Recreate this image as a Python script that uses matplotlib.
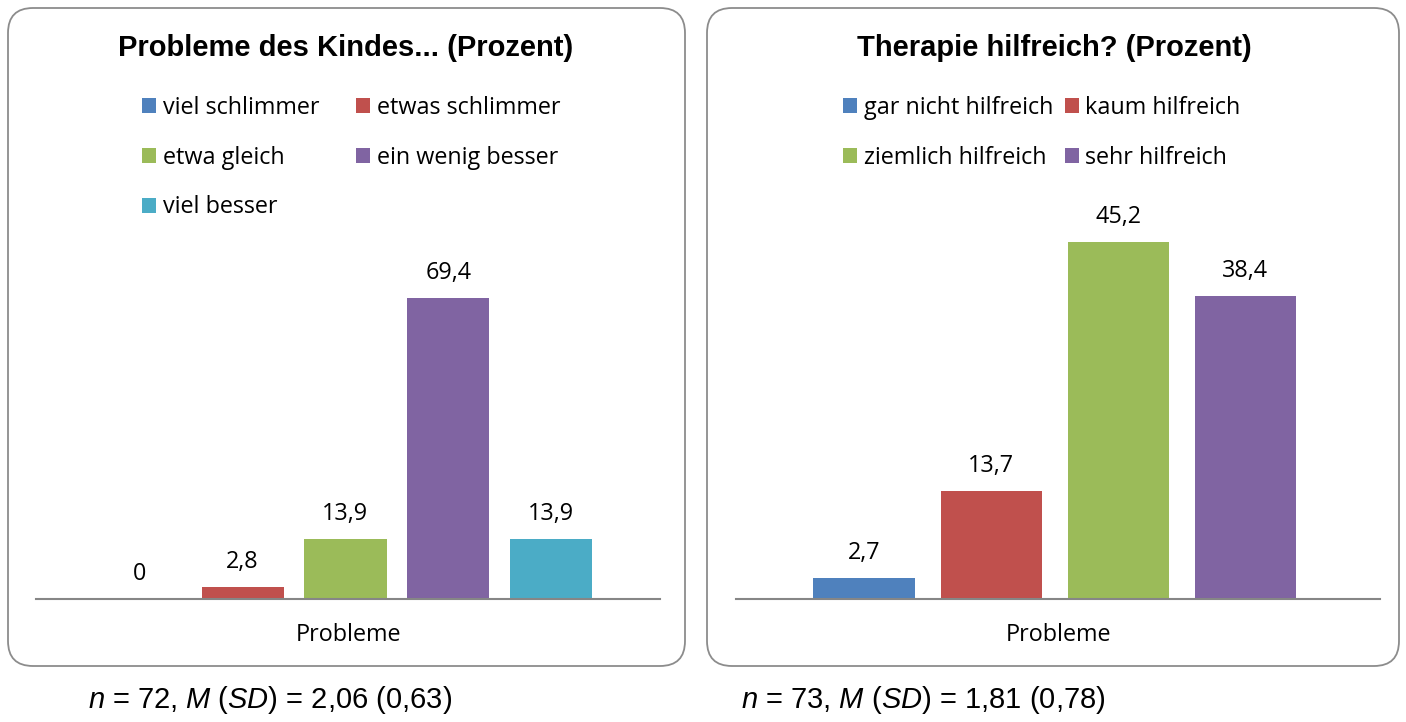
import matplotlib
matplotlib.use("Agg")
import matplotlib.pyplot as plt
from matplotlib.patches import FancyBboxPatch, Patch

plt.rcParams['font.family'] = ['Open Sans', 'DejaVu Sans']
plt.rcParams['mathtext.fontset'] = 'custom'
plt.rcParams['mathtext.rm'] = 'Liberation Sans'
plt.rcParams['mathtext.it'] = 'Liberation Sans:italic'

# Daten
kat_links = ["viel schlimmer", "etwas schlimmer", "etwa gleich", "ein wenig besser", "viel besser"]
werte_links = [0, 2.8, 13.9, 69.4, 13.9]
farben_links = ["#4F81BD", "#C0504D", "#9BBB59", "#8064A2", "#4BACC6"]

kat_rechts = ["gar nicht hilfreich", "kaum hilfreich", "ziemlich hilfreich", "sehr hilfreich"]
werte_rechts = [2.7, 13.7, 45.2, 38.4]
farben_rechts = ["#4F81BD", "#C0504D", "#9BBB59", "#8064A2"]

titel_links = "Probleme des Kindes... (Prozent)"
titel_rechts = "Therapie hilfreich? (Prozent)"
kategorie = "Probleme"
notiz_links = "$n$ = 72, $M$ ($SD$) = 2,06 (0,63)"
notiz_rechts = "$n$ = 73, $M$ ($SD$) = 1,81 (0,78)"

fs = 16.8

fig = plt.figure(figsize=(14.06, 7.22), dpi=100)

# abgerundete Rahmen (in Zoll)
for x0, x1 in [(0.08, 6.85), (7.07, 13.99)]:
    box = FancyBboxPatch((x0, 0.56), x1 - x0, 6.58, boxstyle="round,pad=0,rounding_size=0.25",
                         transform=fig.dpi_scale_trans, facecolor="white", edgecolor="#8c8c8c",
                         linewidth=1.3, zorder=-1)
    fig.add_artist(box)


def zeichne(ax, kats, werte, farben, ymax, titel, titel_x, leg_x, colsp, notiz, notiz_x):
    pos = list(range(len(werte)))
    ax.bar(pos, werte, width=0.8, color=farben)
    for p, v in zip(pos, werte):
        ax.annotate(f"{v:g}".replace(".", ","), (p, v), xytext=(0, 13.5), textcoords="offset points",
                    ha="center", va="baseline", fontsize=fs, color="black", annotation_clip=False)
    ax.set_xlim(-1.01, len(werte) + 0.06)
    ax.set_ylim(0, ymax)
    ax.set_yticks([])
    ax.set_xticks([(len(werte) - 1) / 2 + 0.03])
    ax.set_xticklabels([kategorie], fontsize=fs)
    ax.tick_params(axis="x", length=0, pad=17)
    for s in ["top", "right", "left"]:
        ax.spines[s].set_visible(False)
    ax.spines["bottom"].set_color("#868686")
    ax.spines["bottom"].set_linewidth(1.5)
    ax.patch.set_alpha(0)

    fig.text(titel_x, 1 - 48 / 722, titel, ha="center", va="center", fontsize=21,
             fontweight="bold", family="Liberation Sans")

    handles = [Patch(facecolor=f, edgecolor="none") for f in farben]
    n = len(handles)
    order = list(range(0, n, 2)) + list(range(1, n, 2))
    ax.legend([handles[i] for i in order], [kats[i] for i in order], ncol=2,
              loc="upper left", bbox_to_anchor=(leg_x, 1 - 96 / 722), bbox_transform=fig.transFigure,
              frameon=False, fontsize=fs, handlelength=0.6, handleheight=0.6,
              handletextpad=0.28, labelspacing=1.1, columnspacing=colsp, borderpad=0,
              borderaxespad=0)

    fig.text(notiz_x, 1 - 700 / 722, notiz, ha="left", va="center", fontsize=21,
             family="Liberation Sans")


ax1 = fig.add_axes([36 / 1406, 123 / 722, 624 / 1406, 399 / 722])
zeichne(ax1, kat_links, werte_links, farben_links, 399 / 4.34, titel_links, 346 / 1406,
        142 / 1406, 1.6, notiz_links, 88 / 1406)

ax2 = fig.add_axes([736 / 1406, 123 / 722, 644 / 1406, 399 / 722])
zeichne(ax2, kat_rechts, werte_rechts, farben_rechts, 399 / 7.9, titel_rechts, 1054 / 1406,
        843 / 1406, 0.5, notiz_rechts, 741 / 1406)

fig.savefig("out.png", dpi=100)
